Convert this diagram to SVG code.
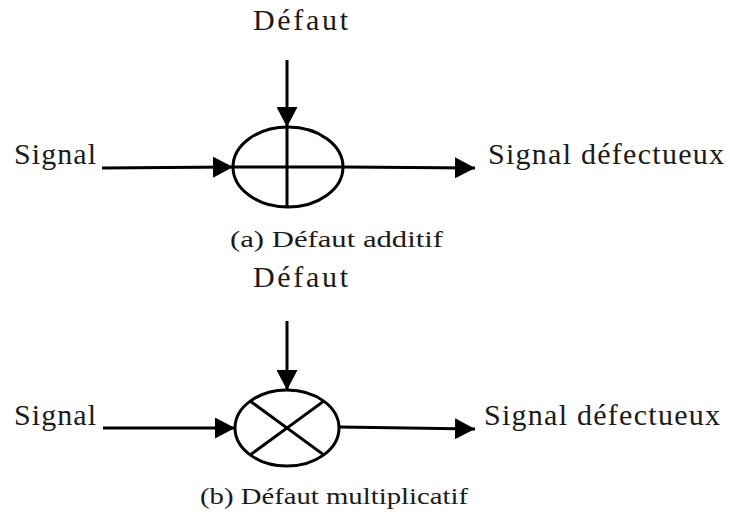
<svg xmlns="http://www.w3.org/2000/svg" width="730" height="513" viewBox="0 0 730 513">
<defs>
<marker id="ah" markerWidth="20" markerHeight="21" refX="20" refY="10.5" orient="auto" markerUnits="userSpaceOnUse">
<path d="M0,0 L20,10.5 L0,21 Z" fill="#000"/>
</marker>
<style>
text{font-family:'Liberation Serif','Times New Roman',serif;fill:#1a1a1a}
.lbl{font-size:30px}
.cap{font-size:23px}
.ln{stroke:#000;stroke-width:3;fill:none}
</style>
</defs>
<rect width="730" height="513" fill="#fff"/>
<g id="connectors">
<line class="ln" x1="287" y1="60" x2="287" y2="127" marker-end="url(#ah)"/>
<line class="ln" x1="102" y1="168" x2="233" y2="167" marker-end="url(#ah)"/>
<line class="ln" x1="343" y1="167" x2="475" y2="168" marker-end="url(#ah)"/>
<line class="ln" x1="287" y1="321" x2="287" y2="390" marker-end="url(#ah)"/>
<line class="ln" x1="103" y1="428" x2="235" y2="428" marker-end="url(#ah)"/>
<line class="ln" x1="339" y1="427" x2="475" y2="429" marker-end="url(#ah)"/>
</g>
<g id="sum">
<ellipse class="ln" cx="288" cy="167" rx="55" ry="40"/>
<line class="ln" x1="287" y1="127" x2="287" y2="207"/>
<line class="ln" x1="233" y1="167" x2="343" y2="167"/>
</g>
<g id="mult">
<ellipse class="ln" cx="287" cy="428" rx="52" ry="38"/>
<line class="ln" x1="250.2" y1="401.1" x2="323.8" y2="454.9"/>
<line class="ln" x1="323.8" y1="401.1" x2="250.2" y2="454.9"/>
</g>
<g id="labels-a">
<text class="lbl" x="253" y="30" textLength="95" lengthAdjust="spacing">Défaut</text>
<text class="lbl" x="14" y="164" textLength="82" lengthAdjust="spacing">Signal</text>
<text class="lbl" x="488" y="164" textLength="236" lengthAdjust="spacing">Signal défectueux</text>
<text class="cap" x="230" y="247" textLength="213" lengthAdjust="spacingAndGlyphs">(a) Défaut additif</text>
</g>
<g id="labels-b">
<text class="lbl" x="253" y="287" textLength="95" lengthAdjust="spacing">Défaut</text>
<text class="lbl" x="14" y="425" textLength="82" lengthAdjust="spacing">Signal</text>
<text class="lbl" x="484" y="425" textLength="236" lengthAdjust="spacing">Signal défectueux</text>
<text class="cap" x="200" y="504" textLength="268" lengthAdjust="spacingAndGlyphs">(b) Défaut multiplicatif</text>
</g>
</svg>
